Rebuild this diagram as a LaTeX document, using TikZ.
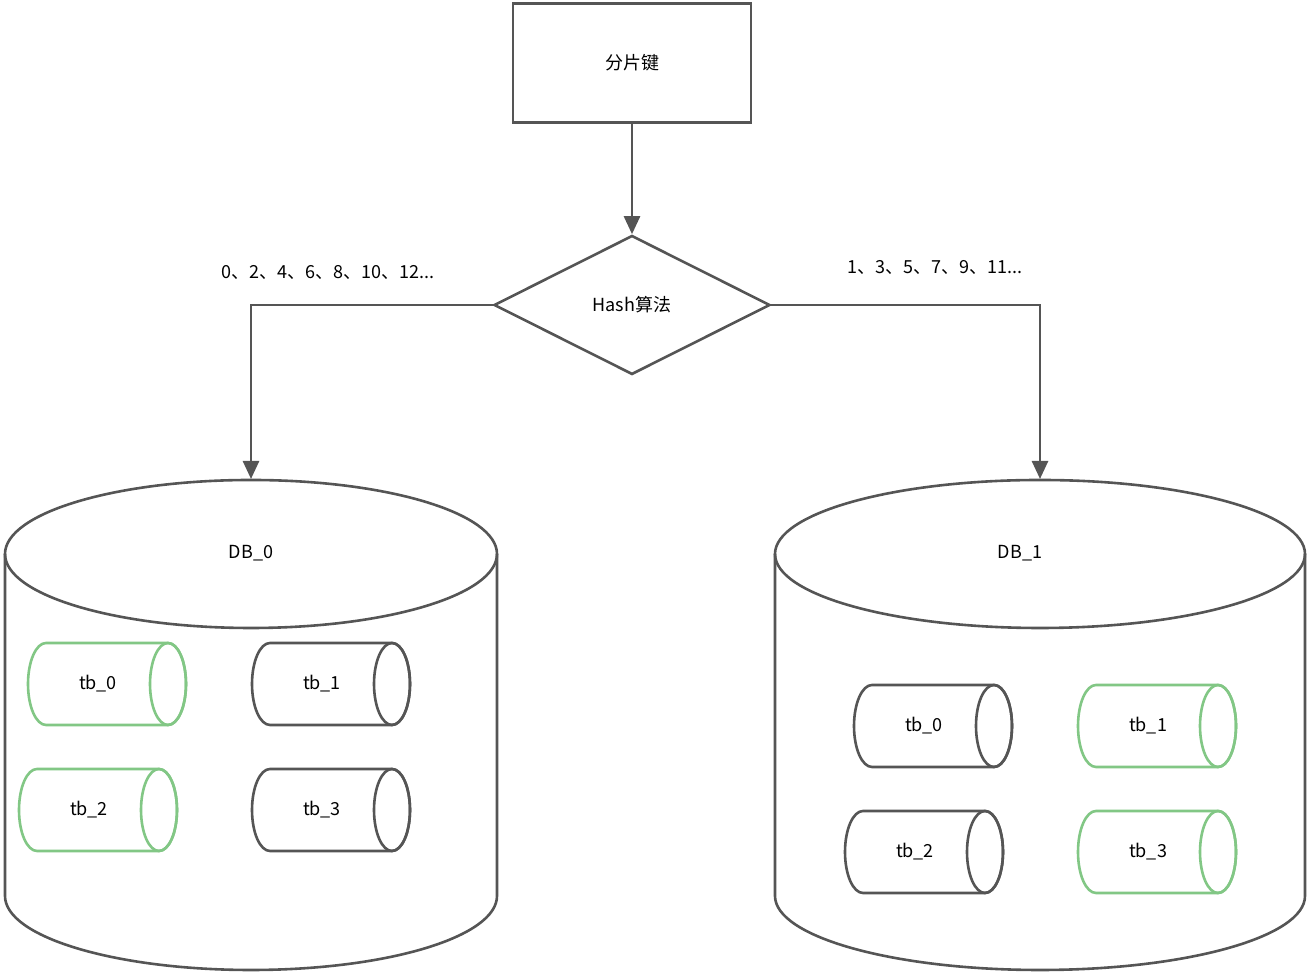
\documentclass[tikz,border=0pt]{standalone}
\usepackage{fontspec}
\setmainfont{Noto Sans CJK SC}
\usetikzlibrary{shapes.geometric,arrows.meta}
\definecolor{dg}{HTML}{555555}
\definecolor{gn}{HTML}{82C785}
\tikzset{
  ln/.style={draw=dg,line width=2.6pt},
  arr/.style={ln,-{Triangle[length=18pt,width=16pt]}},
  txt/.style={font=\fontsize{18}{20}\selectfont,text=black},
}
\newcommand\hcyl[5]{% x1, ytop(px), color, text, name
  \pgfmathsetmacro\yt{976-#2}
  \pgfmathsetmacro\yc{\yt-41}
  \pgfmathsetmacro\yb{\yt-82}
  \pgfmathsetmacro\xa{#1+18}
  \pgfmathsetmacro\xb{#1+140}
  \pgfmathsetmacro\xt{#1+70}
  \draw[line width=2.6pt,draw=#3,fill=white] (\xa,\yt) -- (\xb,\yt) arc[start angle=90,end angle=-90,x radius=18,y radius=41] -- (\xa,\yb) arc[start angle=270,end angle=90,x radius=18,y radius=41] -- cycle;
  \draw[line width=2.6pt,draw=#3] (\xb,\yc) ellipse[x radius=18,y radius=41];
  \node[txt] (#5) at (\xt,\yc) {#4};
}
\newcommand\dbcyl[3]{% x1, x2, name
  \pgfmathsetmacro\rx{(#2-#1)/2}
  \pgfmathsetmacro\cx{(#2+#1)/2}
  \draw[ln,fill=white] (#1,422) -- (#1,80) arc[start angle=180,end angle=360,x radius=\rx,y radius=74] -- (#2,422);
  \draw[ln] (\cx,422) ellipse[x radius=\rx,y radius=74];
}
\begin{document}
\begin{tikzpicture}[x=1pt,y=1pt]
\useasboundingbox (0,0) rectangle (1310,976);
\node[ln,txt,minimum width=238pt,minimum height=119pt,inner sep=0pt] (key) at (632,913) {分片键};
\node[ln,txt,diamond,minimum width=276pt,minimum height=139pt,inner sep=0pt] (hash) at (632,671) {Hash算法};
\dbcyl{5}{497}{db0}
\dbcyl{775}{1305}{db1}
\coordinate (db0top) at (251,497);
\coordinate (db1top) at (1040,497);
\draw[arr] (key.south) -- (hash.north);
\draw[arr] (hash.west) -| (db0top);
\draw[arr] (hash.east) -| (db1top);
\node[txt] (l0) at (328,704) {0、2、4、6、8、10、12...};
\node[txt] (l1) at (935,709) {1、3、5、7、9、11...};
\node[txt] (n0) at (251,423) {DB\_0};
\node[txt] (n1) at (1020,423) {DB\_1};
\hcyl{28}{643}{gn}{tb\_0}{a0}
\hcyl{252}{643}{dg}{tb\_1}{a1}
\hcyl{19}{769}{gn}{tb\_2}{a2}
\hcyl{252}{769}{dg}{tb\_3}{a3}
\hcyl{854}{685}{dg}{tb\_0}{b0}
\hcyl{1078}{685}{gn}{tb\_1}{b1}
\hcyl{845}{811}{dg}{tb\_2}{b2}
\hcyl{1078}{811}{gn}{tb\_3}{b3}
\end{tikzpicture}
\end{document}
